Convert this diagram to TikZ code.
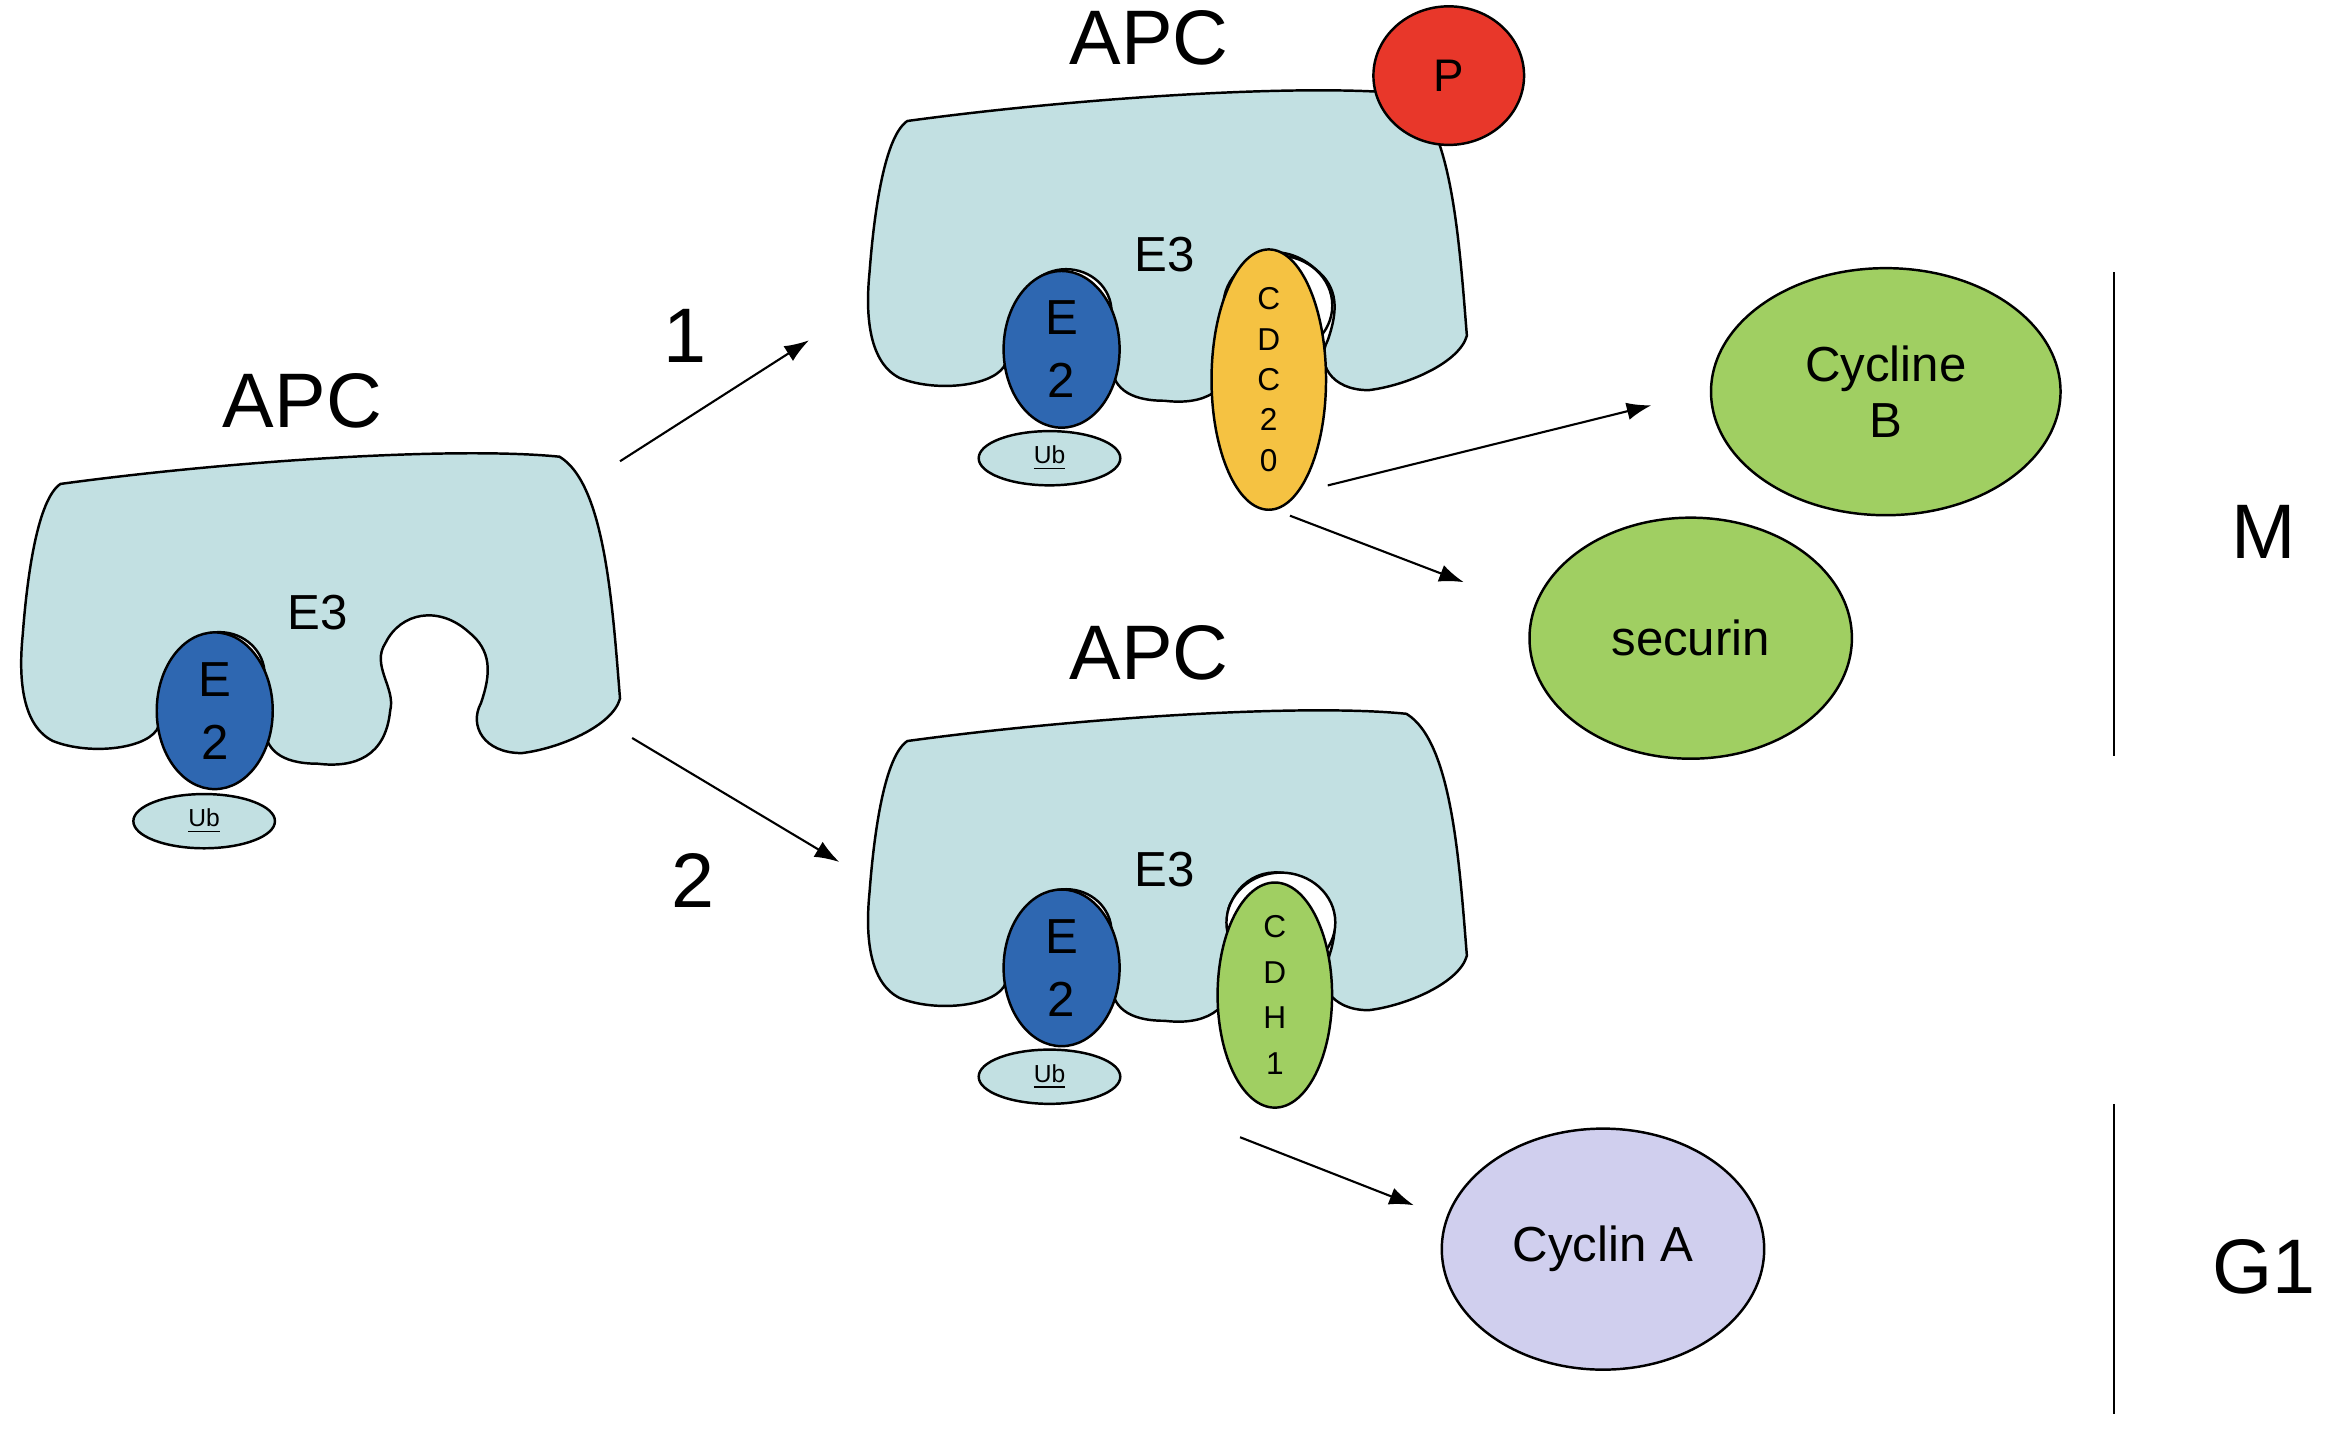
\documentclass[tikz,border=0pt]{standalone}
\usepackage{fontspec}
\setmainfont{Liberation Sans}
\usetikzlibrary{arrows.meta,positioning,shapes.geometric}
\definecolor{apcblue}{HTML}{C2E0E2}
\definecolor{etwo}{HTML}{2E67B1}
\definecolor{cdcyel}{HTML}{F5C242}
\definecolor{pred}{HTML}{E8372A}
\definecolor{leaf}{HTML}{A0CF62}
\definecolor{lilac}{HTML}{D0CFEE}
\tikzset{
  blob/.style={fill=apcblue,draw=black,line width=0.7pt},
  prot/.style={ellipse,draw=black,line width=0.7pt,inner sep=0pt,align=center},
  sz/.style 2 args={minimum width={#1*0.4286pt},minimum height={#2*0.4286pt}},
  arr/.style={-{Latex[length=7pt,width=5pt]},line width=0.6pt},
  big/.style={font=\fontsize{22}{24}\selectfont},
  mid/.style={font=\fontsize{14}{16}\selectfont},
  tiny/.style={font=\fontsize{9}{11.5}\selectfont},
}
\newcommand{\apcblob}{%
  \draw[blob] (40,320) .. controls (150,305) and (300,295) .. (370,302)
    .. controls (400,320) and (405,400) .. (410,462)
    .. controls (405,480) and (370,495) .. (345,498)
    .. controls (320,498) and (310,480) .. (318,465)
    .. controls (325,445) and (325,430) .. (310,418)
    .. controls (290,400) and (265,405) .. (255,425)
    .. controls (245,440) and (262,455) .. (258,470)
    .. controls (255,500) and (235,508) .. (210,505)
    .. controls (185,505) and (175,495) .. (175,480)
    -- (105,480)
    .. controls (100,495) and (60,500) .. (35,490)
    .. controls (15,480) and (12,450) .. (15,420)
    .. controls (18,380) and (25,330) .. (40,320) -- cycle;
  \draw[fill=white,line width=0.7pt] (145,446) ellipse (30 and 28);
}
\begin{document}
\begin{tikzpicture}[x=0.01512cm,y=-0.01512cm]
\useasboundingbox (0,0) rectangle (1550,949.7);

% left APC
\apcblob
\node[prot,fill=etwo,sz={77}{104},mid] (e2a) at (142,470) {E\\[2pt]2};
\node[prot,fill=apcblue,sz={94}{36},font=\fontsize{7}{8}\selectfont] (uba) at (135,543) {\underline{Ub}};
\node[mid] (e3a) at (210,405) {E3};
\node[big] (apca) at (200,265) {APC};

% top APC
\begin{scope}[shift={(560,-240)}]
\apcblob
\end{scope}
\draw[fill=white,line width=0.7pt] (845,202) ellipse (36 and 33);
\node[prot,fill=etwo,sz={77}{104},mid] (e2b) at (702,231) {E\\[2pt]2};
\node[prot,fill=apcblue,sz={94}{36},font=\fontsize{7}{8}\selectfont] (ubb) at (694,303) {\underline{Ub}};
\node[prot,fill=cdcyel,sz={76}{140},tiny] (cdc) at (839,251) {C\\D\\C\\2\\0};
\node[prot,fill=pred,sz={100}{92},font=\fontsize{13}{15}\selectfont] (p) at (958,50) {P};
\node[mid] (e3b) at (770,168) {E3};
\node[big] (apcb) at (760,25) {APC};

% bottom APC
\begin{scope}[shift={(560,170)}]
\apcblob
\end{scope}
\draw[fill=white,line width=0.7pt] (847,610) ellipse (36 and 33);
\node[prot,fill=etwo,sz={77}{104},mid] (e2c) at (702,640) {E\\[2pt]2};
\node[prot,fill=apcblue,sz={94}{36},font=\fontsize{7}{8}\selectfont] (ubc) at (694,712) {\underline{Ub}};
\node[prot,fill=leaf,sz={76}{144},tiny,font=\fontsize{9}{13}\selectfont] (cdh) at (843,658) {C\\D\\H\\1};
\node[mid] (e3c) at (770,575) {E3};
\node[big] (apcc) at (760,432) {APC};

% substrates
\node[prot,fill=leaf,sz={232}{164},mid] (cyb) at (1247,259) {Cycline\\B};
\node[prot,fill=leaf,sz={214}{160},mid] (sec) at (1118,422) {securin};
\node[prot,fill=lilac,sz={214}{160},mid] (cya) at (1060,826) {Cyclin A};

% arrows
\coordinate (a1s) at (410,305); \coordinate (a1e) at (535,225);
\coordinate (a2s) at (418,488); \coordinate (a2e) at (555,570);
\coordinate (a3s) at (878,321); \coordinate (a3e) at (1092,268);
\coordinate (a4s) at (853,341); \coordinate (a4e) at (968,385);
\coordinate (a5s) at (820,752); \coordinate (a5e) at (935,797);
\draw[arr] (a1s) -- (a1e);
\draw[arr] (a2s) -- (a2e);
\draw[arr] (a3s) -- (a3e);
\draw[arr] (a4s) -- (a4e);
\draw[arr] (a5s) -- (a5e);
\node[big] (one) at (453,222) {1};
\node[big] (two) at (458,582) {2};

% phases
\coordinate (m1) at (1398,180); \coordinate (m2) at (1398,500);
\coordinate (g1) at (1398,730); \coordinate (g2) at (1398,935);
\draw[line width=0.7pt] (m1) -- (m2);
\draw[line width=0.7pt] (g1) -- (g2);
\node[big] (mph) at (1497,352) {M};
\node[big] (gph) at (1497,838) {G1};
\end{tikzpicture}
\end{document}
